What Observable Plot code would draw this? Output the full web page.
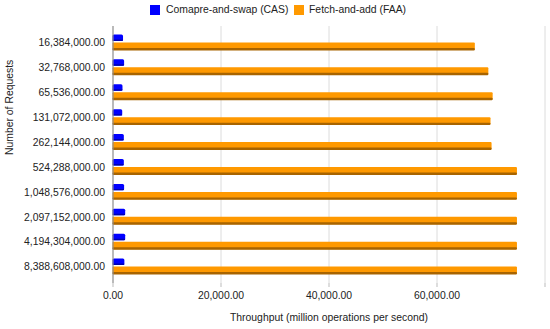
<!DOCTYPE html>
<html>
<head>
<meta charset="utf-8">
<script src="https://cdn.jsdelivr.net/npm/d3@7"></script>
<script src="https://cdn.jsdelivr.net/npm/@observablehq/plot@0.6"></script>
<style>
  html, body { margin: 0; padding: 0; background: #fff; }
  #wrap { position: relative; width: 550px; height: 329px; font-family: "Liberation Sans", Arial, sans-serif; }
  .leg { position: absolute; top: 4px; font-size: 10.4px; color: #222; line-height: 12px; white-space: nowrap; }
  .sw { position: absolute; width: 10px; height: 10px; top: 5px; }
</style>
</head>
<body>
<div id="wrap">
  <div class="sw" style="left:150px;background:#0000ff"></div>
  <div class="leg" style="left:166px">Comapre-and-swap (CAS)</div>
  <div class="sw" style="left:294px;background:#ff9900"></div>
  <div class="leg" style="left:309px">Fetch-and-add (FAA)</div>
</div>
<script>
const categories = ["16,384,000.00", "32,768,000.00", "65,536,000.00", "131,072,000.00", "262,144,000.00",
  "524,288,000.00", "1,048,576,000.00", "2,097,152,000.00", "4,194,304,000.00", "8,388,608,000.00"];
const seriesNames = ["Comapre-and-swap (CAS)", "Fetch-and-add (FAA)"];
const casValues = [1950, 2150, 1850, 1800, 2100, 2100, 2150, 2350, 2350, 2200];
const faaValues = [67100, 69600, 70400, 70000, 70200, 74900, 74900, 74900, 74900, 74900];
const xTicks = [0, 20000, 40000, 60000, 80000];
const xLabel = "Throughput (million operations per second)";
const yLabel = "Number of Requests";

const cas = categories.map((c, i) => ({cat: c, series: seriesNames[0], value: casValues[i]}));
const faa = categories.map((c, i) => ({cat: c, series: seriesNames[1], value: faaValues[i]}));
const fmt = d3.format(",.2f");

const chart = Plot.plot({
  width: 550,
  height: 329,
  marginLeft: 112.5,
  marginRight: 5.5,
  marginTop: 26,
  marginBottom: 46,
  style: {fontFamily: "'Liberation Sans', Arial, sans-serif", fontSize: "10.4px", color: "#222", background: "transparent"},
  x: {domain: [0, 80000]},
  y: {domain: categories, paddingInner: 0.32, paddingOuter: 0.32, round: false},
  marks: [
    Plot.gridX(xTicks.slice(1), {stroke: "#dcdcdc", strokeOpacity: 1, strokeWidth: 1}),
    Plot.barX(cas, {x: "value", y: "cat", fill: "#0000ff", insetTop: 0.5, insetBottom: 10, rx: 1.5}),
    Plot.barX(cas, {x: "value", y: "cat", fill: "#0000b0", insetTop: 5.5, insetBottom: 10, rx: 1}),
    Plot.barX(faa, {x: "value", y: "cat", fill: "#ff9900", insetTop: 8.5, insetBottom: 1, rx: 1}),
    Plot.barX(faa, {x: "value", y: "cat", fill: "#a86400", insetTop: 14, insetBottom: 0.5, rx: 1}),
    Plot.ruleX([0], {stroke: "#8c8c8c", strokeWidth: 1.2}),
    Plot.axisY({tickSize: 0, tickPadding: 8, label: null, fill: "#222"}),
    Plot.axisX({ticks: xTicks, tickSize: 4, tickPadding: 4, stroke: "#bbb", label: null, fill: "#222",
      tickFormat: d => d === 80000 ? "" : fmt(d)}),
    Plot.text([xLabel], {frameAnchor: "bottom", dy: 37, fill: "#222", fontSize: 10.4}),
    Plot.text([yLabel], {frameAnchor: "left", rotate: -90, dx: -103, fill: "#222", fontSize: 10.4})
  ]
});
chart.style.position = "absolute";
chart.style.left = "0";
chart.style.top = "0";
document.getElementById("wrap").prepend(chart);
</script>
</body>
</html>
